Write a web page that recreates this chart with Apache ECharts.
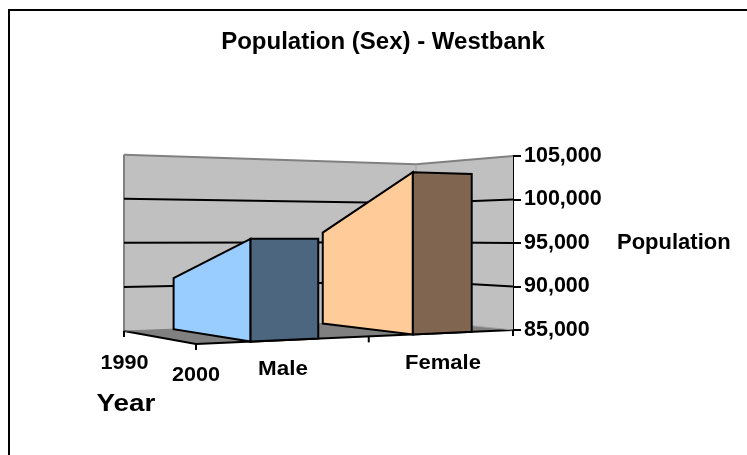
<!DOCTYPE html>
<html>
<head>
<meta charset="utf-8">
<style>html,body{margin:0;padding:0;background:#fff}#c{width:747px;height:455px}</style>
<script src="https://cdn.jsdelivr.net/npm/echarts@6/dist/echarts.min.js"></script>
</head>
<body>
<div id="c"></div>
<script>
const categories = ['Male', 'Female'];
const years = ['1990', '2000'];
const values1990 = [90900, 96200];
const values2000 = [95500, 102800];
const valueTicks = [85000, 90000, 95000, 100000, 105000];
const chartTitle = 'Population (Sex) - Westbank';
const valueTitle = 'Population';
const depthTitle = 'Year';
const blockFaces = [['#99CCFF', '#4D6680'], ['#FFCC99', '#806650']];

// Perspective of the floor: unit square (t along categories, d along depth) to page
const A = [124, 331], B = [196, 344], C = [513, 330], D = [416, 320];
const sx = A[0] - D[0] + C[0] - B[0], sy = A[1] - D[1] + C[1] - B[1];
const dx1 = D[0] - C[0], dy1 = D[1] - C[1], dx2 = B[0] - C[0], dy2 = B[1] - C[1];
const den = dx1 * dy2 - dx2 * dy1;
const g = (sx * dy2 - dx2 * sy) / den, h = (dx1 * sy - sx * dy1) / den;
const a0 = D[0] - A[0] + g * D[0], b0 = B[0] - A[0] + h * B[0];
const a1 = D[1] - A[1] + g * D[1], b1 = B[1] - A[1] + h * B[1];
const wOf = (t, d) => g * t + h * d + 1;
const wC = wOf(1, 1);
const lo = valueTicks[0], hi = valueTicks[valueTicks.length - 1];
function project(api, t, d, v) {
  const w = wOf(t, d);
  const px = (a0 * t + b0 * d + A[0]) / w;
  const py = (a1 * t + b1 * d + A[1]) / w;
  const rise = (api.coord([0, lo])[1] - api.coord([0, v])[1]) * wC / w;
  return [px, py - rise];
}
const poly = (pts, fill, stroke, lw) => ({
  type: 'polygon', shape: { points: pts },
  style: { fill: fill, stroke: stroke || null, lineWidth: lw || 0, lineJoin: 'miter' }
});
const line = (p, q, stroke, lw) => ({
  type: 'line', shape: { x1: p[0], y1: p[1], x2: q[0], y2: q[1] },
  style: { stroke: stroke, lineWidth: lw, fill: null }
});
const label = (s, x, y, size, stretch) => ({
  type: 'text', x: x, y: y, scaleX: stretch,
  style: { text: s, fill: '#000', font: 'bold ' + size + 'px "Liberation Sans", Arial, sans-serif', align: 'center', verticalAlign: 'middle' }
});

function renderStage(params, api) {
  const P = (t, d, v) => project(api, t, d, v);
  const kids = [];
  kids.push(poly([P(0, 0, hi), P(1, 0, hi), P(1, 0, lo), P(0, 0, lo)], '#C0C0C0'));
  kids.push(poly([P(1, 0, hi), P(1, 1, hi), P(1, 1, lo), P(1, 0, lo)], '#C0C0C0'));
  kids.push(line(P(0, 0, lo), P(0, 0, hi), '#808080', 2));
  kids.push(line(P(0, 0, hi), P(1, 0, hi), '#808080', 2));
  kids.push(line(P(1, 0, hi), P(1, 1, hi), '#808080', 2));
  kids.push(line(P(1, 0, hi), P(1, 0, lo), '#A0A0A0', 1));
  valueTicks.slice(1, -1).forEach(v => {
    kids.push(line(P(0, 0, v), P(1, 0, v), '#000', 2));
    kids.push(line(P(1, 0, v), P(1, 1, v), '#000', 2));
  });
  kids.push(poly([P(0, 0, lo), P(1, 0, lo), P(1, 1, lo), P(0, 1, lo)], '#808080'));
  kids.push(line(P(0, 1, lo), P(1, 1, lo), '#000', 2));
  kids.push(line(P(0, 0, lo), P(0, 1, lo), '#000', 2));
  kids.push(line(P(0, 0, lo), P(1, 0, lo), '#808080', 1));
  kids.push(line(P(1, 0, lo), P(1, 1, lo), '#A0A0A0', 1));
  // ticks on the floor axes, and the value axis's stub below the floor
  [P(0, 0, lo), P(0, 1, lo), P(0.51, 1, lo), P(1, 1, lo)].forEach(p => kids.push(line(p, [p[0], p[1] + 6], '#000', 2)));
  return { type: 'group', children: kids };
}

function renderBlock(params, api) {
  const i = api.value(0), back = api.value(1), front = api.value(2);
  const t0 = (i + 0.5) / categories.length - 0.097, t1 = t0 + 0.2;
  const P = (t, d, v) => project(api, t, d, v);
  const cols = blockFaces[i];
  return {
    type: 'group', children: [
      poly([P(t0, 0, lo), P(t0, 0, back), P(t0, 1, front), P(t0, 1, lo)], cols[0], '#000', 2),
      poly([P(t0, 1, lo), P(t0, 1, front), P(t1, 1, front), P(t1, 1, lo)], cols[1], '#000', 2)
    ]
  };
}

function renderLabels(params, api) {
  return {
    type: 'group', children: [
      label(years[0], 124.5, 363, 20, 1.08),
      label(years[1], 196, 375, 20, 1.08),
      label(categories[0], 283, 369, 20, 1.12),
      label(categories[1], 443, 363, 20, 1.1),
      label(depthTitle, 126, 404, 24, 1.16)
    ]
  };
}

const chart = echarts.init(document.getElementById('c'), null, { renderer: 'canvas' });
chart.setOption({
  animation: false,
  backgroundColor: '#fff',
  title: {
    text: chartTitle, left: 378, top: 25, textAlign: 'center',
    textStyle: { fontFamily: '"Liberation Sans", Arial, sans-serif', fontWeight: 'bold', fontSize: 24, color: '#000' }
  },
  grid: { left: 196, right: 234, top: 156, bottom: 125 },
  xAxis: { type: 'category', data: categories, show: false },
  yAxis: {
    type: 'value', position: 'right', min: lo, max: hi, interval: 5000,
    name: valueTitle, nameLocation: 'middle', nameRotate: 0, nameGap: 104,
    nameTextStyle: { fontFamily: '"Liberation Sans", Arial, sans-serif', fontWeight: 'bold', fontSize: 22, color: '#000', align: 'left', verticalAlign: 'middle' },
    axisLine: { show: true, onZero: false, lineStyle: { color: '#000', width: 2 } },
    axisTick: { show: true, length: 8, lineStyle: { color: '#000', width: 2 } },
    splitLine: { show: false },
    axisLabel: {
      margin: 11, color: '#000', fontWeight: 'bold', fontSize: 21.5,
      fontFamily: '"Liberation Sans", Arial, sans-serif',
      formatter: v => v.toLocaleString('en-US')
    }
  },
  series: [
    { type: 'custom', name: 'stage', silent: true, z: 1, data: [[0, lo]], renderItem: renderStage, encode: { x: 0, y: 1 } },
    { type: 'custom', name: valueTitle, silent: true, z: 2,
      dimensions: ['category', 'y1990', 'y2000'],
      data: categories.map((c, i) => [i, values1990[i], values2000[i]]),
      renderItem: renderBlock, encode: { x: 0, y: [1, 2] } },
    { type: 'custom', name: 'labels', silent: true, z: 3, data: [[0, lo]], renderItem: renderLabels, encode: { x: 0, y: 1 } }
  ],
  graphic: [{
    type: 'rect', z: 100, silent: true,
    shape: { x: 9, y: 10, width: 760, height: 470 },
    style: { fill: null, stroke: '#000', lineWidth: 2 }
  }]
});
</script>
</body>
</html>
